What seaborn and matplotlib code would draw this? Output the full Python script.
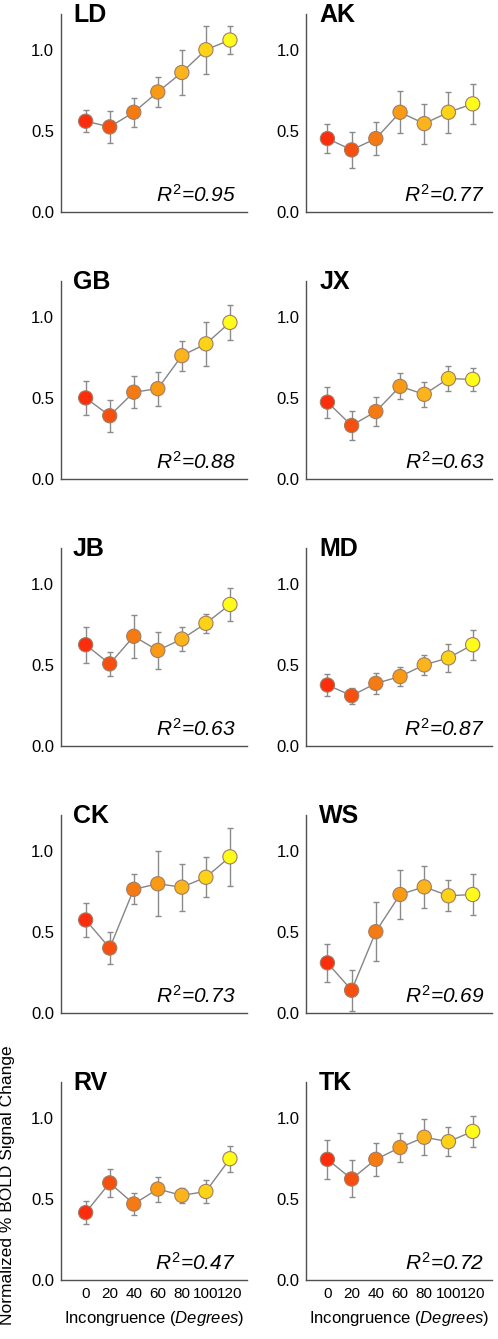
import numpy as np
import pandas as pd
import matplotlib
matplotlib.use("Agg")
import matplotlib.pyplot as plt
import seaborn as sns

# Incongruence angles (degrees)
angles = [0, 20, 40, 60, 80, 100, 120]

# Subjects in panel order (row by row, left then right)
subjects = ["LD", "AK", "GB", "JX", "JB", "MD", "CK", "WS", "RV", "TK"]
r2_values = ["0.95", "0.77", "0.88", "0.63", "0.63", "0.87", "0.73", "0.69", "0.47", "0.72"]

# Normalized % BOLD signal change (mean) and error bar half-widths
ld_mean = [0.56, 0.525, 0.615, 0.74, 0.86, 1.0, 1.06]
ld_err = [0.067, 0.10, 0.09, 0.093, 0.14, 0.148, 0.084]
ak_mean = [0.453, 0.383, 0.453, 0.615, 0.545, 0.615, 0.667]
ak_err = [0.087, 0.113, 0.10, 0.13, 0.123, 0.127, 0.123]
gb_mean = [0.50, 0.39, 0.535, 0.557, 0.76, 0.833, 0.965]
gb_err = [0.103, 0.10, 0.098, 0.105, 0.092, 0.135, 0.106]
jx_mean = [0.474, 0.33, 0.416, 0.571, 0.522, 0.619, 0.614]
jx_err = [0.095, 0.09, 0.09, 0.08, 0.077, 0.078, 0.071]
jb_mean = [0.624, 0.506, 0.676, 0.589, 0.659, 0.756, 0.872]
jb_err = [0.112, 0.072, 0.131, 0.114, 0.072, 0.06, 0.10]
md_mean = [0.376, 0.31, 0.386, 0.428, 0.50, 0.543, 0.624]
md_err = [0.068, 0.05, 0.064, 0.057, 0.06, 0.087, 0.093]
ck_mean = [0.573, 0.40, 0.762, 0.796, 0.775, 0.836, 0.962]
ck_err = [0.107, 0.097, 0.093, 0.20, 0.144, 0.124, 0.18]
ws_mean = [0.309, 0.14, 0.501, 0.73, 0.777, 0.722, 0.73]
ws_err = [0.119, 0.125, 0.18, 0.153, 0.13, 0.096, 0.124]
rv_mean = [0.415, 0.598, 0.468, 0.56, 0.521, 0.545, 0.747]
rv_err = [0.07, 0.088, 0.07, 0.077, 0.048, 0.073, 0.08]
tk_mean = [0.743, 0.622, 0.743, 0.816, 0.879, 0.852, 0.915]
tk_err = [0.122, 0.114, 0.10, 0.09, 0.11, 0.088, 0.097]

means = [ld_mean, ak_mean, gb_mean, jx_mean, jb_mean, md_mean, ck_mean, ws_mean, rv_mean, tk_mean]
errs = [ld_err, ak_err, gb_err, jx_err, jb_err, md_err, ck_err, ws_err, rv_err, tk_err]

# red -> yellow marker colours, one per angle
point_colors = ["#fc2d0c", "#f5500f", "#f57a12", "#f89a14", "#fbb41c", "#fdd317", "#fffc1a"]

sns.set_style("white")
plt.rcParams['font.family'] = ['Liberation Sans', 'DejaVu Sans']
plt.rcParams['mathtext.fontset'] = 'custom'
plt.rcParams['mathtext.rm'] = 'Liberation Sans'
plt.rcParams['mathtext.it'] = 'Liberation Sans:italic'
plt.rcParams['text.color'] = 'black'
plt.rcParams['axes.labelcolor'] = 'black'
plt.rcParams['xtick.color'] = 'black'
plt.rcParams['ytick.color'] = 'black'

fig, axes = plt.subplots(5, 2, figsize=(4.98, 13.39), dpi=100)
fig.subplots_adjust(left=0.1225, right=0.988, top=0.9895, bottom=0.0441,
                    wspace=0.32, hspace=0.348)

for i, ax in enumerate(axes.flat):
    df = pd.DataFrame({'angle': angles, 'signal': means[i], 'err': errs[i]})
    col = i % 2

    ax.errorbar(df['angle'], df['signal'], yerr=df['err'], fmt='none',
                ecolor='#8a8a8a', elinewidth=1.0, capsize=2, capthick=1.0, zorder=1)
    sns.lineplot(data=df, x='angle', y='signal', color='#858585', linewidth=1.0,
                 ax=ax, zorder=2)
    sns.scatterplot(data=df, x='angle', y='signal', hue='angle', palette=point_colors,
                    s=105, edgecolor='#a07e66', linewidth=0.8, legend=False,
                    ax=ax, zorder=3)

    ax.set_ylim(0, 1.22)
    if col == 0:
        ax.set_xlim(-20.5, 134)
    else:
        ax.set_xlim(-17.5, 136)
    ax.set_yticks([0, 0.5, 1.0])
    ax.set_yticklabels(['0.0', '0.5', '1.0'], fontsize=12)
    ax.set_xticks(angles)
    ax.tick_params(length=0, pad=5)
    ax.set_xlabel('')
    ax.set_ylabel('')

    sns.despine(ax=ax)
    for side in ['left', 'bottom']:
        ax.spines[side].set_color('#505050')
        ax.spines[side].set_linewidth(1.0)

    ax.text(0.065 if col == 0 else 0.07, 0.96, subjects[i], transform=ax.transAxes,
            fontsize=18, fontweight='bold', va='baseline', ha='left')
    ax.text(0.94 if col == 0 else 0.96, 0.05, "$R^2$=" + r2_values[i],
            transform=ax.transAxes, fontsize=15, style='italic',
            ha='right', va='baseline')

    if i >= 8:
        ax.set_xticklabels([str(a) for a in angles], fontsize=11)
        ax.set_xlabel(r'Incongruence $\mathit{(Degrees)}$', fontsize=12, labelpad=6)
    else:
        ax.set_xticklabels([])

fig.text(0.016, 0.115, 'Normalized % BOLD Signal Change', rotation=90,
         fontsize=12.5, ha='center', va='center')

plt.savefig('out.png', dpi=100)
